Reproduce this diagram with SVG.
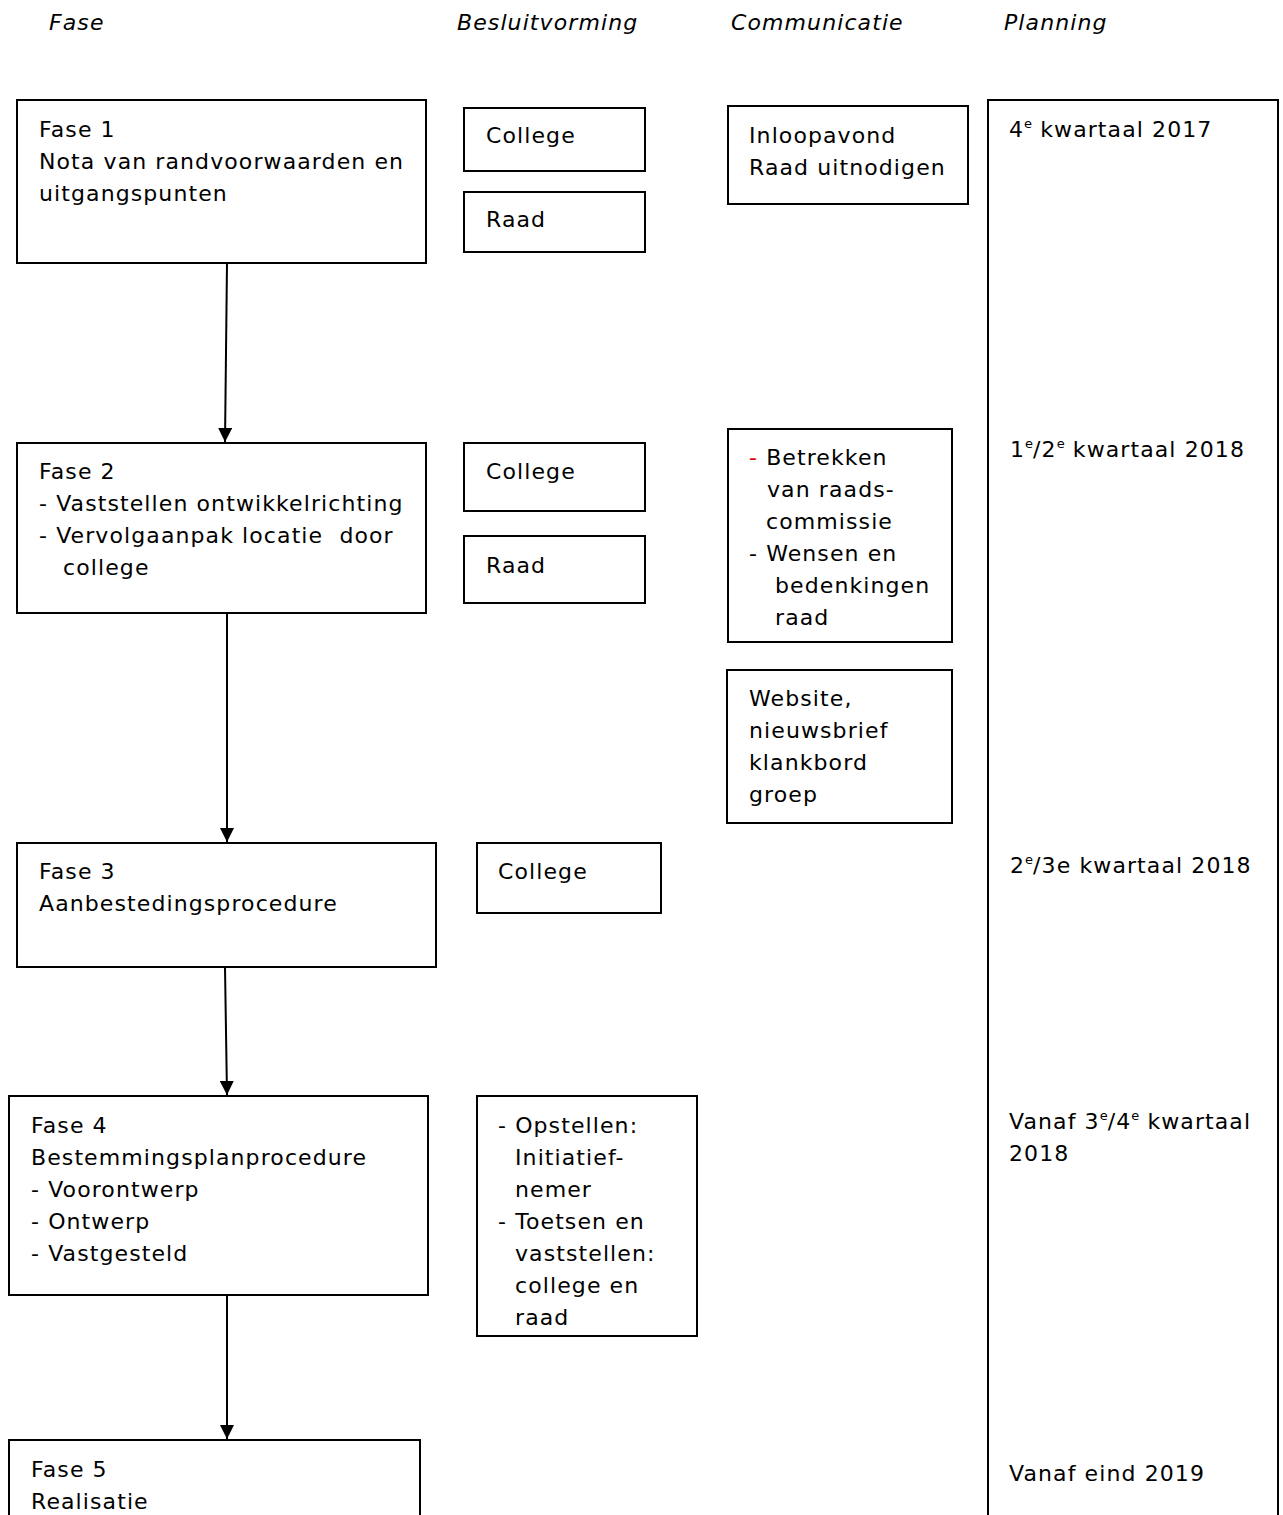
<svg xmlns="http://www.w3.org/2000/svg" width="1283" height="1515" viewBox="0 0 1283 1515">
<style>
text{font-family:"DejaVu Sans","Verdana",sans-serif;font-size:22px;letter-spacing:1.1px;fill:#000}
.h{font-style:italic}
.box{fill:#fff;stroke:#000;stroke-width:2}
.conn{stroke:#000;stroke-width:2;fill:none}
.sup{font-size:13px;letter-spacing:0}
</style>
<defs>
<marker id="ah" markerWidth="14" markerHeight="14" refX="14" refY="7" orient="auto" markerUnits="userSpaceOnUse" viewBox="0 0 14 14">
<path d="M0,0 L14,7 L0,14 Z" fill="#000"/>
</marker>
</defs>
<rect width="1283" height="1515" fill="#fff"/>
<g id="headers">
<text class="h" x="49" y="30">Fase</text>
<text class="h" x="457" y="30">Besluitvorming</text>
<text class="h" x="731" y="30">Communicatie</text>
<text class="h" x="1004" y="30">Planning</text>
</g>
<g id="planning">
<rect class="box" x="988" y="100" width="290" height="1430"/>
<text x="1009" y="137">4<tspan class="sup" dy="-9">e</tspan><tspan dy="9"> kwartaal 2017</tspan></text>
<text x="1010" y="457">1<tspan class="sup" dy="-9">e</tspan><tspan dy="9">/2</tspan><tspan class="sup" dy="-9">e</tspan><tspan dy="9"> kwartaal 2018</tspan></text>
<text x="1010" y="873">2<tspan class="sup" dy="-9">e</tspan><tspan dy="9">/3e kwartaal 2018</tspan></text>
<text x="1009" y="1129">Vanaf 3<tspan class="sup" dy="-9">e</tspan><tspan dy="9">/4</tspan><tspan class="sup" dy="-9">e</tspan><tspan dy="9"> kwartaal</tspan></text>
<text x="1009" y="1161">2018</text>
<text x="1009" y="1481">Vanaf eind 2019</text>
</g>
<g id="fase1">
<rect class="box" x="17" y="100" width="409" height="163"/>
<text x="39" y="137">Fase 1</text>
<text x="39" y="169">Nota van randvoorwaarden en</text>
<text x="39" y="201">uitgangspunten</text>
</g>
<g id="college1">
<rect class="box" x="464" y="108" width="181" height="63"/>
<text x="486" y="143">College</text>
</g>
<g id="raad1">
<rect class="box" x="464" y="192" width="181" height="60"/>
<text x="486" y="227">Raad</text>
</g>
<g id="comm1">
<rect class="box" x="728" y="106" width="240" height="98"/>
<text x="749" y="143">Inloopavond</text>
<text x="749" y="175">Raad uitnodigen</text>
</g>
<g id="fase2">
<rect class="box" x="17" y="443" width="409" height="170"/>
<text x="39" y="479">Fase 2</text>
<text x="39" y="511">- Vaststellen ontwikkelrichting</text>
<text x="39" y="543" xml:space="preserve">- Vervolgaanpak locatie  door</text>
<text x="63" y="575">college</text>
</g>
<g id="college2">
<rect class="box" x="464" y="443" width="181" height="68"/>
<text x="486" y="479">College</text>
</g>
<g id="raad2">
<rect class="box" x="464" y="536" width="181" height="67"/>
<text x="486" y="573">Raad</text>
</g>
<g id="comm2">
<rect class="box" x="728" y="429" width="224" height="213"/>
<text x="749" y="465"><tspan fill="#e00000">-</tspan> Betrekken</text>
<text x="767" y="497">van raads-</text>
<text x="766" y="529">commissie</text>
<text x="749" y="561">- Wensen en</text>
<text x="775" y="593">bedenkingen</text>
<text x="775" y="625">raad</text>
</g>
<g id="comm3">
<rect class="box" x="727" y="670" width="225" height="153"/>
<text x="749" y="706">Website,</text>
<text x="749" y="738">nieuwsbrief</text>
<text x="749" y="770">klankbord</text>
<text x="749" y="802">groep</text>
</g>
<g id="fase3">
<rect class="box" x="17" y="843" width="419" height="124"/>
<text x="39" y="879">Fase 3</text>
<text x="39" y="911">Aanbestedingsprocedure</text>
</g>
<g id="college3">
<rect class="box" x="477" y="843" width="184" height="70"/>
<text x="498" y="879">College</text>
</g>
<g id="fase4">
<rect class="box" x="9" y="1096" width="419" height="199"/>
<text x="31" y="1133">Fase 4</text>
<text x="31" y="1165">Bestemmingsplanprocedure</text>
<text x="31" y="1197">- Voorontwerp</text>
<text x="31" y="1229">- Ontwerp</text>
<text x="31" y="1261">- Vastgesteld</text>
</g>
<g id="besluit4">
<rect class="box" x="477" y="1096" width="220" height="240"/>
<text x="498" y="1133">- Opstellen:</text>
<text x="515" y="1165">Initiatief-</text>
<text x="515" y="1197">nemer</text>
<text x="498" y="1229">- Toetsen en</text>
<text x="515" y="1261">vaststellen:</text>
<text x="515" y="1293">college en</text>
<text x="515" y="1325">raad</text>
</g>
<g id="fase5">
<rect class="box" x="9" y="1440" width="411" height="90"/>
<text x="31" y="1477">Fase 5</text>
<text x="31" y="1509">Realisatie</text>
</g>
<g id="connectors">
<line class="conn" x1="227" y1="263" x2="225" y2="442" marker-end="url(#ah)"/>
<line class="conn" x1="227" y1="613" x2="227" y2="842" marker-end="url(#ah)"/>
<line class="conn" x1="225" y1="967" x2="227" y2="1095" marker-end="url(#ah)"/>
<line class="conn" x1="227" y1="1295" x2="227" y2="1439" marker-end="url(#ah)"/>
</g>
</svg>
